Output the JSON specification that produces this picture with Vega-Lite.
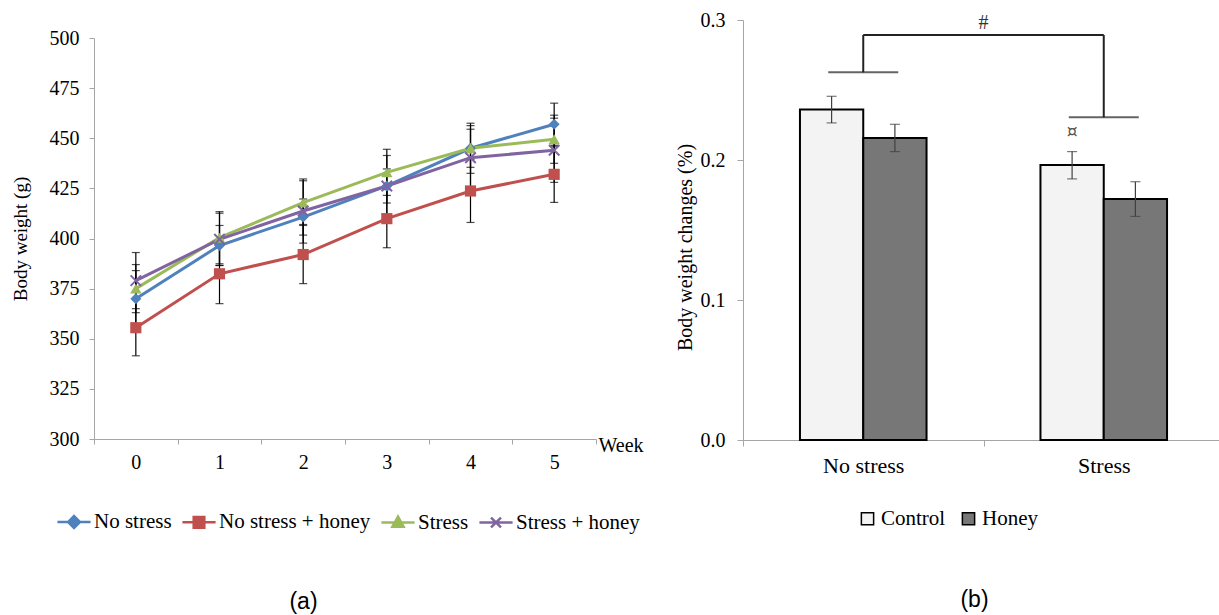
{
  "$schema": "https://vega.github.io/schema/vega-lite/v6.json",
  "padding": {"left": 11, "top": 10, "right": 0, "bottom": 0},
  "background": "white",
  "datasets": {
    "weights": [
      {"series": "No stress", "week": 0, "value": 370, "lo": 356, "hi": 384},
      {"series": "No stress", "week": 1, "value": 396.5, "lo": 386.5, "hi": 406.5},
      {"series": "No stress", "week": 2, "value": 410.7, "lo": 401.7, "hi": 419.7},
      {"series": "No stress", "week": 3, "value": 426.2, "lo": 417.7, "hi": 434.7},
      {"series": "No stress", "week": 4, "value": 445, "lo": 435.5, "hi": 454.5},
      {"series": "No stress", "week": 5, "value": 457, "lo": 446.5, "hi": 467.5},
      {"series": "No stress + honey", "week": 0, "value": 355.5, "lo": 341.5, "hi": 369.5},
      {"series": "No stress + honey", "week": 1, "value": 382.4, "lo": 367.5, "hi": 397.3},
      {"series": "No stress + honey", "week": 2, "value": 392, "lo": 377.5, "hi": 406.5},
      {"series": "No stress + honey", "week": 3, "value": 409.9, "lo": 395.4, "hi": 424.4},
      {"series": "No stress + honey", "week": 4, "value": 423.7, "lo": 408, "hi": 439.4},
      {"series": "No stress + honey", "week": 5, "value": 432, "lo": 418, "hi": 446},
      {"series": "Stress", "week": 0, "value": 375, "lo": 363, "hi": 387},
      {"series": "Stress", "week": 1, "value": 400.4, "lo": 387.4, "hi": 413.4},
      {"series": "Stress", "week": 2, "value": 417.9, "lo": 407, "hi": 428.8},
      {"series": "Stress", "week": 3, "value": 433, "lo": 421.5, "hi": 444.5},
      {"series": "Stress", "week": 4, "value": 445, "lo": 432.5, "hi": 457.5},
      {"series": "Stress", "week": 5, "value": 449.5, "lo": 437.5, "hi": 461.5},
      {"series": "Stress  + honey", "week": 0, "value": 379, "lo": 365, "hi": 393},
      {"series": "Stress  + honey", "week": 1, "value": 399.6, "lo": 386.6, "hi": 412.6},
      {"series": "Stress  + honey", "week": 2, "value": 413.7, "lo": 397.7, "hi": 429.7},
      {"series": "Stress  + honey", "week": 3, "value": 426.2, "lo": 411, "hi": 441.4},
      {"series": "Stress  + honey", "week": 4, "value": 440.3, "lo": 424.3, "hi": 456.3},
      {"series": "Stress  + honey", "week": 5, "value": 444, "lo": 428, "hi": 460}
    ],
    "changes": [
      {"group": "No stress", "treatment": "Control", "value": 0.236, "lo": 0.2265, "hi": 0.2455},
      {"group": "No stress", "treatment": "Honey", "value": 0.2157, "lo": 0.206, "hi": 0.2255},
      {"group": "Stress", "treatment": "Control", "value": 0.1964, "lo": 0.1865, "hi": 0.206},
      {"group": "Stress", "treatment": "Honey", "value": 0.1721, "lo": 0.1597, "hi": 0.1845}
    ],
    "brackets": [
      {"group": "No stress", "y": 0.2626, "y2": 0.2893},
      {"group": "Stress", "y": 0.2305, "y2": 0.2893}
    ],
    "topbracket": [
      {"from": "No stress", "to": "Stress", "y": 0.2893}
    ],
    "marks": [
      {"group": "Stress", "y": 0.2979, "label": "#"}
    ],
    "sig": [
      {"group": "Stress", "treatment": "Control", "y": 0.2202, "label": "¤"}
    ]
  },
  "config": {
    "view": {"stroke": null},
    "font": "Liberation Serif",
    "axis": {
      "domainColor": "#a6a6a6", "tickColor": "#a6a6a6", "labelColor": "black", "titleColor": "black",
      "grid": false, "labelFont": "Liberation Serif", "titleFont": "Liberation Serif", "titleFontWeight": "normal"
    },
    "legend": {"labelFont": "Liberation Serif", "labelColor": "black"},
    "title": {"font": "Liberation Sans", "fontWeight": "normal", "color": "black"}
  },
  "spacing": 29,
  "resolve": {
    "scale": {"color": "independent", "fill": "independent", "shape": "independent", "stroke": "independent"},
    "legend": {"color": "independent", "fill": "independent", "shape": "independent", "stroke": "independent"}
  },
  "hconcat": [
    {
      "title": {"text": "(a)", "orient": "bottom", "fontSize": 23, "offset": 58, "anchor": "middle", "dx": -25},
      "spacing": 7,
      "resolve": {
        "scale": {"color": "independent", "fill": "independent", "shape": "independent", "stroke": "independent"},
        "legend": {"color": "independent", "fill": "independent", "shape": "independent", "stroke": "independent"}
      },
      "vconcat": [
        {
          "width": 502,
          "height": 1,
          "data": {"values": []},
          "mark": {"type": "rule", "opacity": 0},
          "encoding": {}
        },
        {
          "width": 502,
          "height": 401,
          "data": {"name": "weights"},
          "encoding": {
            "x": {
              "field": "week", "type": "ordinal",
              "scale": {"type": "band", "paddingInner": 0, "paddingOuter": 0},
              "bandPosition": 0.5,
              "axis": {
                "title": "Week", "titleX": 504, "titleY": 6, "titleAlign": "left", "titleBaseline": "middle",
                "titleFontSize": 20, "labelFontSize": 20, "labelAngle": 0, "tickBand": "extent",
                "tickSize": 5, "labelPadding": 8
              }
            },
            "y": {"field": "value", "type": "quantitative", "scale": {"domain": [300, 500], "nice": false, "zero": false},
              "axis": {"values": [300, 325, 350, 375, 400, 425, 450, 475, 500], "title": "Body weight (g)",
                "titleFontSize": 19, "labelFontSize": 20, "tickSize": 5, "labelPadding": 10, "titlePadding": 19}}
          },
          "layer": [
            {
              "mark": {"type": "rule", "color": "black", "strokeWidth": 1.2},
              "encoding": {
                "y": {"field": "lo", "type": "quantitative"},
                "y2": {"field": "hi"}
              }
            },
            {
              "mark": {"type": "tick", "color": "black", "size": 8, "thickness": 1.2},
              "encoding": {"y": {"field": "lo", "type": "quantitative"}}
            },
            {
              "mark": {"type": "tick", "color": "black", "size": 8, "thickness": 1.2},
              "encoding": {"y": {"field": "hi", "type": "quantitative"}}
            },
            {
              "mark": {"type": "line", "strokeWidth": 3},
              "encoding": {
                "color": {
                  "field": "series", "type": "nominal",
                  "scale": {"domain": ["No stress", "No stress + honey", "Stress", "Stress  + honey"],
                    "range": ["#4F81BD", "#C0504D", "#9BBB59", "#8064A2"]},
                  "legend": {
                    "title": null, "orient": "none", "legendX": -38, "legendY": 466, "direction": "horizontal",
                    "labelFontSize": 21, "symbolSize": 1100, "symbolStrokeWidth": 2.5, "columnPadding": 5, "labelOffset": 2,
                    "encode": {"symbols": {"update": {
                      "shape": {"signal": "datum.value === 'No stress' ? 'M-1,0H1M-0.36,0L0,-0.36L0.36,0L0,0.36Z' : datum.value === 'No stress + honey' ? 'M-1,0H1M-0.32,-0.32H0.32V0.32H-0.32Z' : datum.value === 'Stress' ? 'M-1,0H1M0,-0.36L0.34,0.26H-0.34Z' : 'M-1,0H1M-0.3,-0.3L0.3,0.3M-0.3,0.3L0.3,-0.3'"},
                      "stroke": {"signal": "datum.value === 'No stress' ? '#4F81BD' : datum.value === 'No stress + honey' ? '#C0504D' : datum.value === 'Stress' ? '#9BBB59' : '#8064A2'"},
                      "fill": {"signal": "datum.value === 'No stress' ? '#4F81BD' : datum.value === 'No stress + honey' ? '#C0504D' : datum.value === 'Stress' ? '#9BBB59' : '#8064A2'"},
                      "strokeWidth": {"value": 2.5},
                      "opacity": {"value": 1}
                    }}}
                  }
                }
              }
            },
            {
              "transform": [{"filter": "datum.series === 'No stress'"}],
              "mark": {"type": "point", "shape": "diamond", "filled": true, "size": 120, "color": "#4F81BD", "opacity": 1}
            },
            {
              "transform": [{"filter": "datum.series === 'No stress + honey'"}],
              "mark": {"type": "point", "shape": "square", "filled": true, "size": 125, "color": "#C0504D", "opacity": 1}
            },
            {
              "transform": [{"filter": "datum.series === 'Stress'"}],
              "mark": {"type": "point", "shape": "triangle-up", "filled": true, "size": 130, "color": "#9BBB59", "opacity": 1}
            },
            {
              "transform": [{"filter": "datum.series === 'Stress  + honey'"}],
              "mark": {"type": "point", "shape": "M-1,-1L1,1M-1,1L1,-1", "filled": false, "size": 110, "strokeWidth": 2, "color": "#8064A2", "opacity": 1}
            }
          ]
        }
      ]
    },
    {
      "title": {"text": "(b)", "orient": "bottom", "fontSize": 23, "offset": 60, "anchor": "middle", "dx": -9},
      "width": 481,
      "height": 420,
      "encoding": {
        "x": {
          "field": "group", "type": "nominal",
          "scale": {"domain": ["No stress", "Stress"], "type": "band", "paddingInner": 0, "paddingOuter": 0},
          "axis": {"title": null, "labelAngle": 0, "labelFontSize": 22, "tickBand": "extent", "tickSize": 6, "labelPadding": 9}
        }
      },
      "layer": [
        {
          "data": {"name": "changes"},
          "mark": {"type": "bar", "stroke": "black", "strokeWidth": 2},
          "encoding": {
            "xOffset": {"field": "treatment", "type": "nominal", "scale": {"domain": ["Control", "Honey"], "paddingInner": 0, "paddingOuter": 0.9}},
            "y": {"field": "value", "type": "quantitative", "scale": {"domain": [0, 0.3], "nice": false},
              "axis": {"values": [0, 0.1, 0.2, 0.3], "format": ".1f", "title": "Body weight changes (%)", "titleY": 227,
                "titleFontSize": 20, "labelFontSize": 20, "tickSize": 6, "labelPadding": 12, "titlePadding": 5}},
            "fill": {"field": "treatment", "type": "nominal",
              "scale": {"domain": ["Control", "Honey"], "range": ["#f3f3f3", "#777777"]},
              "legend": {"title": null, "orient": "none", "legendX": 114, "legendY": 488, "direction": "horizontal",
                "labelFontSize": 21, "symbolType": "square", "symbolSize": 150, "symbolStrokeColor": "black",
                "symbolStrokeWidth": 1.5, "columnPadding": 12, "labelOffset": 3}}
          }
        },
        {
          "data": {"name": "changes"},
          "mark": {"type": "rule", "color": "#404040", "strokeWidth": 1.2},
          "encoding": {
            "xOffset": {"field": "treatment", "type": "nominal"},
            "y": {"field": "lo", "type": "quantitative"},
            "y2": {"field": "hi"}
          }
        },
        {
          "data": {"name": "changes"},
          "mark": {"type": "tick", "color": "#404040", "size": 10, "thickness": 1.2},
          "encoding": {
            "xOffset": {"field": "treatment", "type": "nominal"},
            "y": {"field": "lo", "type": "quantitative"}
          }
        },
        {
          "data": {"name": "changes"},
          "mark": {"type": "tick", "color": "#404040", "size": 10, "thickness": 1.2},
          "encoding": {
            "xOffset": {"field": "treatment", "type": "nominal"},
            "y": {"field": "hi", "type": "quantitative"}
          }
        },
        {
          "data": {"name": "brackets"},
          "mark": {"type": "tick", "color": "#222222", "size": 70, "thickness": 2},
          "encoding": {"y": {"field": "y", "type": "quantitative"}}
        },
        {
          "data": {"name": "brackets"},
          "mark": {"type": "rule", "color": "#222222", "strokeWidth": 2},
          "encoding": {"y": {"field": "y", "type": "quantitative"}, "y2": {"field": "y2"}}
        },
        {
          "data": {"name": "topbracket"},
          "mark": {"type": "rule", "color": "#222222", "strokeWidth": 2},
          "encoding": {
            "x": {"field": "from", "type": "nominal"},
            "x2": {"field": "to"},
            "y": {"field": "y", "type": "quantitative"}
          }
        },
        {
          "data": {"name": "marks"},
          "mark": {"type": "text", "fontSize": 20, "color": "#333333", "font": "Liberation Serif"},
          "encoding": {
            "x": {"field": "group", "type": "nominal", "bandPosition": 0},
            "y": {"field": "y", "type": "quantitative"},
            "text": {"field": "label"}
          }
        },
        {
          "data": {"name": "sig"},
          "mark": {"type": "text", "fontSize": 17, "color": "#555555", "font": "DejaVu Sans"},
          "encoding": {
            "xOffset": {"field": "treatment", "type": "nominal"},
            "y": {"field": "y", "type": "quantitative"},
            "text": {"field": "label"}
          }
        }
      ]
    }
  ]
}
